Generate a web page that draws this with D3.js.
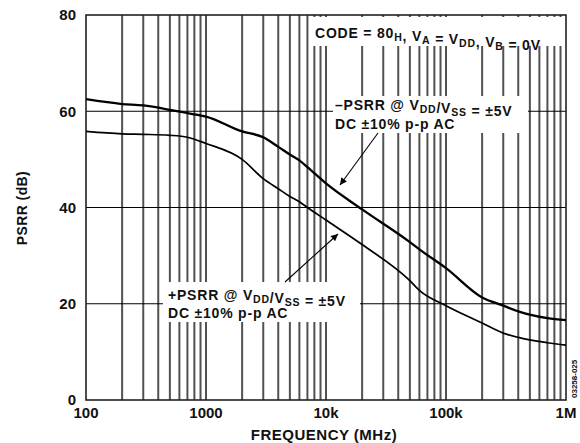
<!DOCTYPE html>
<html>
<head>
<meta charset="utf-8">
<script src="https://cdn.jsdelivr.net/npm/d3@7"></script>
<style>
  body { margin: 0; background: #fff; }
  svg text { font-family: "Liberation Sans", Arial, sans-serif; font-weight: bold; fill: #111; }
</style>
</head>
<body>
<div id="chart"></div>
<script>
// frequencies (Hz) and PSRR readings (dB)
const freqs = [100, 200, 300, 500, 700, 1000, 2000, 3000, 4000, 5000, 6000, 7000, 10000, 20000, 50000, 60000, 100000, 200000, 300000, 400000, 700000, 1000000]
const negPsrr = [62.5, 61.5, 61.2, 60.3, 59.6, 58.9, 55.8, 54.6, 52.6, 51.0, 49.8, 48.4, 45.0, 39.6, 32.8, 31.3, 27.4, 21.3, 19.6, 18.4, 17.0, 16.6]
const posPsrr = [55.8, 55.3, 55.2, 55.0, 54.6, 53.3, 50.0, 46.0, 43.9, 42.3, 41.2, 40.0, 37.4, 32.3, 24.8, 22.8, 19.6, 16.0, 13.9, 13.0, 11.9, 11.4]
const xTickValues = [100, 1000, 10000, 100000, 1000000]
const xTickLabels = ['100', '1000', '10k', '100k', '1M']
const yTickValues = [0, 20, 40, 60, 80]

const W = 580, H = 443
const margin = {top: 15, right: 14, bottom: 43, left: 86}
const width = W - margin.left - margin.right
const height = H - margin.top - margin.bottom

const svg = d3.select('#chart').append('svg')
    .attr('width', W)
    .attr('height', H)
  .append('g')
    .attr('transform', 'translate(' + margin.left + ',' + margin.top + ')')

const x = d3.scaleLog().domain([100, 1000000]).range([0, width])
const y = d3.scaleLinear().domain([0, 80]).range([height, 0])

// vertical grid: every 1..9 multiple in each decade
const minor = []
for (let d = 100; d < 1000000; d *= 10) {
  for (let k = 2; k <= 9; k++) minor.push(d * k)
  if (d > 100) minor.push(d)
}
svg.append('g')
  .selectAll('line')
  .data(minor)
  .enter().append('line')
    .attr('x1', d => x(d)).attr('x2', d => x(d))
    .attr('y1', 0).attr('y2', height)
    .attr('stroke', '#333')
    .attr('stroke-opacity', 0.85)
    .attr('stroke-width', 2)

// horizontal grid
svg.append('g')
  .selectAll('line')
  .data(yTickValues.filter(v => v > 0 && v < 80))
  .enter().append('line')
    .attr('x1', 0).attr('x2', width)
    .attr('y1', d => y(d)).attr('y2', d => y(d))
    .attr('stroke', '#000')
    .attr('stroke-width', 1.2)

// white boxes behind the notes (they cut the grid)
const boxes = [
  {x: 312 - margin.left, y: 2, w: 251, h: 29},
  {x: 333 - margin.left, y: 96 - margin.top, w: 195, h: 37},
  {x: 163 - margin.left, y: 282 - margin.top, w: 197, h: 40}
]
svg.append('g')
  .selectAll('rect')
  .data(boxes)
  .enter().append('rect')
    .attr('x', d => d.x).attr('y', d => d.y)
    .attr('width', d => d.w).attr('height', d => d.h)
    .attr('fill', '#fff')

// frame
svg.append('rect')
  .attr('width', width).attr('height', height)
  .attr('fill', 'none')
  .attr('stroke', '#222')
  .attr('stroke-width', 1.6)

// curves
const line = d3.line()
  .x((d, i) => x(freqs[i]))
  .y(d => y(d))
  .curve(d3.curveMonotoneX)

svg.append('path')
  .datum(negPsrr)
  .attr('d', line)
  .attr('fill', 'none')
  .attr('stroke', '#000')
  .attr('stroke-width', 2.3)

svg.append('path')
  .datum(posPsrr)
  .attr('d', line)
  .attr('fill', 'none')
  .attr('stroke', '#000')
  .attr('stroke-width', 1.7)

// axes labels
svg.append('g')
  .selectAll('text')
  .data(yTickValues)
  .enter().append('text')
    .attr('x', -10)
    .attr('y', d => y(d))
    .attr('dy', '0.36em')
    .attr('text-anchor', 'end')
    .attr('font-size', 15)
    .text(d => d)

svg.append('g')
  .selectAll('text')
  .data(xTickValues)
  .enter().append('text')
    .attr('x', d => x(d))
    .attr('y', height + 18)
    .attr('text-anchor', 'middle')
    .attr('font-size', 15)
    .text((d, i) => xTickLabels[i])

svg.append('text')
  .attr('x', width / 2 - 2)
  .attr('y', height + 40)
  .attr('text-anchor', 'middle')
  .attr('font-size', 15)
  .attr('letter-spacing', 0.5)
  .text('FREQUENCY (MHz)')

svg.append('text')
  .attr('transform', 'translate(' + (27 - margin.left) + ',' + (208 - margin.top) + ') rotate(-90)')
  .attr('text-anchor', 'middle')
  .attr('font-size', 14)
  .attr('letter-spacing', 0.4)
  .text('PSRR (dB)')

// annotations: text with subscripts
function richText(xPos, yPos, parts) {
  const t = svg.append('text')
    .attr('x', xPos - margin.left)
    .attr('y', yPos - margin.top)
    .attr('font-size', 14)
    .attr('letter-spacing', 0.8)
  parts.forEach(p => {
    if (typeof p === 'string') {
      t.append('tspan').text(p)
    } else {
      t.append('tspan').attr('dy', 3).attr('font-size', 10.5).text(p.sub)
      t.append('tspan').attr('dy', -3).text('')
    }
  })
  return t
}

richText(315, 38, ['CODE = 80', {sub: 'H'}, ', V', {sub: 'A'}, ' = V', {sub: 'DD'}, ', V', {sub: 'B'}, ' = 0V'])
richText(335, 110, ['\u2013PSRR @ V', {sub: 'DD'}, '/V', {sub: 'SS'}, ' = \u00b15V'])
richText(335, 129, ['DC \u00b110% p-p AC'])
richText(168, 300, ['+PSRR @ V', {sub: 'DD'}, '/V', {sub: 'SS'}, ' = \u00b15V'])
richText(168, 318, ['DC \u00b110% p-p AC'])

// arrows
const defs = svg.append('defs')
defs.append('marker')
    .attr('id', 'arrow')
    .attr('viewBox', '0 0 10 10')
    .attr('refX', 10).attr('refY', 5)
    .attr('markerWidth', 10).attr('markerHeight', 7)
    .attr('markerUnits', 'userSpaceOnUse')
    .attr('orient', 'auto')
  .append('path')
    .attr('d', 'M0,0 L10,5 L0,10 z')
    .attr('fill', '#000')

const arrows = [
  {x1: 378, y1: 133, x2: 340, y2: 185},
  {x1: 285, y1: 282, x2: 338, y2: 234}
]
svg.append('g')
  .selectAll('line')
  .data(arrows)
  .enter().append('line')
    .attr('x1', d => d.x1 - margin.left).attr('y1', d => d.y1 - margin.top)
    .attr('x2', d => d.x2 - margin.left).attr('y2', d => d.y2 - margin.top)
    .attr('stroke', '#000')
    .attr('stroke-width', 1.1)
    .attr('marker-end', 'url(#arrow)')

// figure number, clipped at the edge
svg.append('text')
  .attr('transform', 'translate(' + (577 - margin.left) + ',' + (398 - margin.top) + ') rotate(-90)')
  .attr('font-size', 8)
  .attr('font-weight', 'normal')
  .attr('fill', '#555')
  .text('03258-025')
</script>
</body>
</html>
